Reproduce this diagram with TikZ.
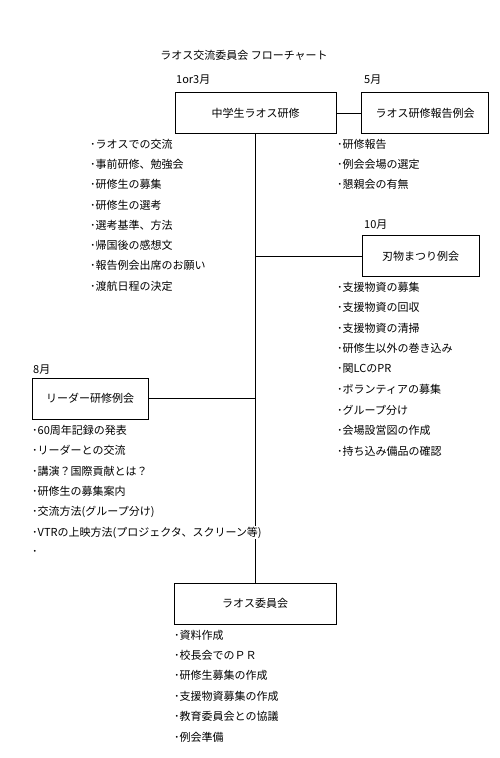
\documentclass[tikz,border=0pt]{standalone}
\usepackage{fontspec}
\setmainfont{Noto Sans CJK JP}
\begin{document}
\begin{tikzpicture}[x=1pt,y=-1pt,
  every node/.style={font=\fontsize{11}{12}\selectfont},
  box/.style={draw,line width=0.8pt,minimum width=#1,minimum height=41pt,inner sep=0pt},
  lbl/.style={anchor=west,inner sep=0pt},
  item/.style={anchor=west,inner xsep=0pt,inner ysep=0.5pt,fill=white},
  conn/.style={line width=0.8pt}]
\useasboundingbox (0,0) rectangle (499,758);
\node (title) at (244,55) {ラオス交流委員会 フローチャート};
% boxes
\node[box=161pt] (b1) at (255.5,113) {中学生ラオス研修};
\node[box=127pt] (b2) at (425,113) {ラオス研修報告例会};
\node[box=117pt] (b3) at (420.5,256) {刃物まつり例会};
\node[box=116pt] (b4) at (90,398.5) {リーダー研修例会};
\node[box=162pt] (b5) at (255,603.5) {ラオス委員会};
% month labels
\node[lbl] (m1) at (176,80) {1or3月};
\node[lbl] (m2) at (364,80) {5月};
\node[lbl] (m3) at (364,225) {10月};
\node[lbl] (m4) at (33,370) {8月};
% connectors
\draw[conn] (b1.south) -- (b1.south |- b5.north);
\draw[conn] (b1.east) -- (b2.west);
\draw[conn] (b3.west -| b1.south) -- (b3.west);
\draw[conn] (b4.east) -- (b4.east -| b1.south);
% list 1
\foreach \t [count=\i] in {ラオスでの交流,事前研修、勉強会,研修生の募集,研修生の選考,選考基準、方法,帰国後の感想文,報告例会出席のお願い,渡航日程の決定}
  \node[item] (la\i) at (90,{144+20.3*(\i-1)}) {･\t};
% list 2
\foreach \t [count=\i] in {研修報告,例会会場の選定,懇親会の有無}
  \node[item] (lb\i) at (337,{144+20.3*(\i-1)}) {･\t};
% list 3
\foreach \t [count=\i] in {支援物資の募集,支援物資の回収,支援物資の清掃,研修生以外の巻き込み,関LCのPR,ボランティアの募集,グループ分け,会場設営図の作成,持ち込み備品の確認}
  \node[item] (lc\i) at (337,{287+20.5*(\i-1)}) {･\t};
% list 4
\foreach \t [count=\i] in {60周年記録の発表,リーダーとの交流,講演？国際貢献とは？,研修生の募集案内,交流方法(グループ分け),VTRの上映方法(プロジェクタ、スクリーン等)}
  \node[item] (ld\i) at (32,{430+20.5*(\i-1)}) {･\t};
\node[item] (ld7) at (32,553) {･};
% list 5
\foreach \t [count=\i] in {資料作成,校長会でのＰＲ,研修生募集の作成,支援物資募集の作成,教育委員会との協議,例会準備}
  \node[item] (le\i) at (174,{635+20.4*(\i-1)}) {･\t};
\end{tikzpicture}
\end{document}
